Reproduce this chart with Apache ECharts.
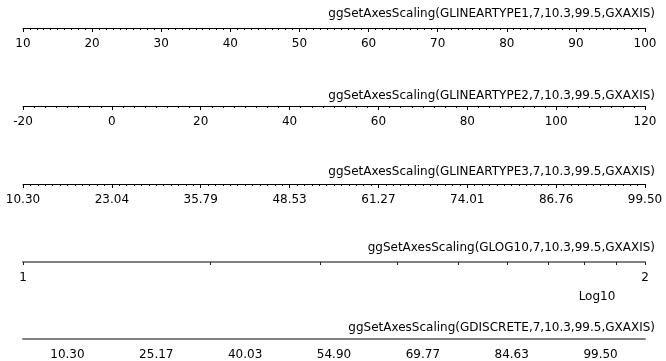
<!DOCTYPE html>
<html>
<head>
<meta charset="utf-8">
<script src="https://cdn.jsdelivr.net/npm/echarts@6/dist/echarts.min.js"></script>
<style>html,body{margin:0;padding:0;background:#fff}#c{width:666px;height:361px}</style>
</head>
<body>
<div id="c"></div>
<script>
// ---- data ----
var titles = [
  'ggSetAxesScaling(GLINEARTYPE1,7,10.3,99.5,GXAXIS)',
  'ggSetAxesScaling(GLINEARTYPE2,7,10.3,99.5,GXAXIS)',
  'ggSetAxesScaling(GLINEARTYPE3,7,10.3,99.5,GXAXIS)',
  'ggSetAxesScaling(GLOG10,7,10.3,99.5,GXAXIS)',
  'ggSetAxesScaling(GDISCRETE,7,10.3,99.5,GXAXIS)'
];
var axis1Range = [10, 100], axis1Step = 10;
var axis2Range = [-20, 120], axis2Step = 20;
var axis3Labels = ['10.30','23.04','35.79','48.53','61.27','74.01','86.76','99.50'];
var axis4TickValues = [10,20,30,40,50,60,70,80,90,100];
var axis4Labels = [1, 2];
var axis4Name = 'Log10';
var axis5Categories = ['10.30','25.17','40.03','54.90','69.77','84.63','99.50'];

// ---- layout ----
var FONT = '"DejaVu Sans", sans-serif';
var FS = 12;
var L = 23, R = 21;
var lineY = [28, 106, 184, 262, 340];
var titleY = [14, 96, 172, 248, 328];

var chart = echarts.init(document.getElementById('c'));
var grids = [], xAxes = [], yAxes = [];
lineY.forEach(function (y, i) {
  grids.push({left: L, right: R, top: y - 10, height: 10});
  yAxes.push({gridIndex: i, type: 'value', show: false});
});
var lbl = {color: '#000', fontSize: FS, fontFamily: FONT, margin: 10};
function blackLine() { return {lineStyle: {color: '#000', width: 1}}; }

xAxes.push({
  gridIndex: 0, type: 'value', min: axis1Range[0], max: axis1Range[1], interval: axis1Step,
  axisLine: blackLine(), axisTick: {length: 4, lineStyle: {color: '#000'}},
  minorTick: {show: true, splitNumber: 10, length: 2, lineStyle: {color: '#000'}},
  splitLine: {show: false}, axisLabel: lbl
});
xAxes.push({
  gridIndex: 1, type: 'value', min: axis2Range[0], max: axis2Range[1], interval: axis2Step,
  axisLine: blackLine(), axisTick: {length: 4, lineStyle: {color: '#000'}},
  minorTick: {show: true, splitNumber: 8, length: 2, lineStyle: {color: '#000'}},
  splitLine: {show: false}, axisLabel: lbl
});
xAxes.push({
  gridIndex: 2, type: 'value', min: 0, max: axis3Labels.length - 1, interval: 1,
  axisLine: blackLine(), axisTick: {length: 4, lineStyle: {color: '#000'}},
  minorTick: {show: true, splitNumber: 12, length: 2, lineStyle: {color: '#000'}},
  splitLine: {show: false},
  axisLabel: Object.assign({}, lbl, {formatter: function (v) { return axis3Labels[Math.round(v)]; }})
});
xAxes.push({
  gridIndex: 3, type: 'value', min: axis4Labels[0], max: axis4Labels[1],
  axisLine: {lineStyle: {color: '#808080', width: 2}},
  axisTick: {length: 3, lineStyle: {color: '#222'}, customValues: axis4TickValues.map(function (v) { return Math.log10(v); })},
  splitLine: {show: false},
  axisLabel: Object.assign({}, lbl, {customValues: axis4Labels})
});
xAxes.push({
  gridIndex: 4, type: 'category', data: axis5Categories, boundaryGap: true,
  axisLine: {lineStyle: {color: '#808080', width: 2}},
  axisTick: {alignWithLabel: true, length: 3, lineStyle: {color: '#222'}},
  splitLine: {show: false}, axisLabel: Object.assign({}, lbl, {interval: 0})
});

var graphics = titles.map(function (t, i) {
  return {type: 'text', x: 655, y: titleY[i],
    style: {text: t, fill: '#000', font: FS + 'px ' + FONT, textAlign: 'right', textVerticalAlign: 'middle'}};
});
graphics.push({type: 'text', x: 597, y: 297,
  style: {text: axis4Name, fill: '#000', font: FS + 'px ' + FONT, textAlign: 'center', textVerticalAlign: 'middle'}});

chart.setOption({
  animation: false,
  grid: grids, xAxis: xAxes, yAxis: yAxes,
  graphic: graphics,
  series: []
});
</script>
</body>
</html>
